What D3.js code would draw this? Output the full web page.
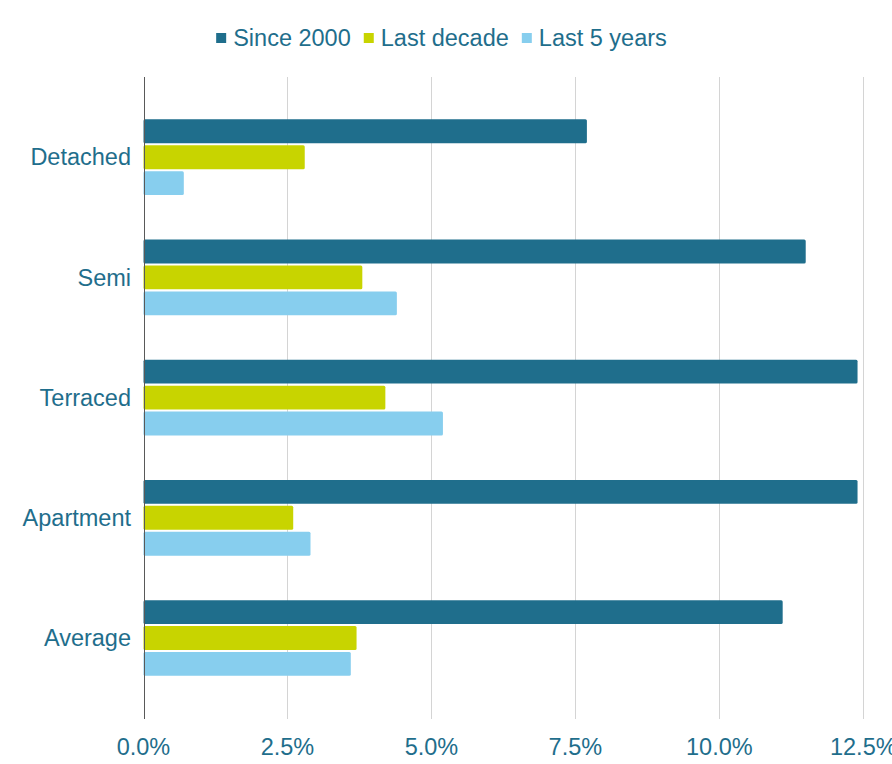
<!DOCTYPE html>
<html>
<head>
<meta charset="utf-8">
<script src="https://cdn.jsdelivr.net/npm/d3@7"></script>
<style>
  html, body { margin: 0; padding: 0; background: #fff; }
  svg { display: block; font-family: "Liberation Sans", Arial, sans-serif; }
</style>
</head>
<body>
<svg id="chart" width="892" height="764"></svg>
<script>
// Average annual house price growth by property type
const categories = ["Detached", "Semi", "Terraced", "Apartment", "Average"];
const seriesNames = ["Since 2000", "Last decade", "Last 5 years"];
const since2000 = [7.7, 11.5, 12.4, 12.4, 11.1];
const lastDecade = [2.8, 3.8, 4.2, 2.6, 3.7];
const last5Years = [0.7, 4.4, 5.2, 2.9, 3.6];
const tickValues = [0, 2.5, 5, 7.5, 10, 12.5];
const colors = ["#1f6e8c", "#c8d400", "#87ceee"];
const textColor = "#1f6e8c";

const seriesValues = [since2000, lastDecade, last5Years];
const rows = categories.map((c, i) => ({
  category: c,
  values: seriesNames.map((s, j) => ({ series: s, value: seriesValues[j][i], idx: j }))
}));

const svg = d3.select("#chart");

const x = d3.scaleLinear().domain([0, 12.5]).range([143.5, 863.3]);
const y = d3.scaleBand().domain(categories).range([97.1, 698.1])
  .paddingInner(0.37).paddingOuter(0.185);
const ySub = d3.scaleBand().domain(seriesNames).range([0, y.bandwidth()])
  .paddingInner(0.08).paddingOuter(0);

const gridTop = 77, gridBottom = 719;

// vertical gridlines
svg.append("g")
  .selectAll("line")
  .data(tickValues.filter(v => v > 0))
  .join("line")
  .attr("x1", d => Math.round(x(d)) + 0.5)
  .attr("x2", d => Math.round(x(d)) + 0.5)
  .attr("y1", gridTop).attr("y2", gridBottom)
  .attr("stroke", "#d4d4d4").attr("stroke-width", 1);

// bars
const groups = svg.append("g")
  .selectAll("g")
  .data(rows)
  .join("g")
  .attr("transform", d => `translate(0,${y(d.category)})`);

groups.selectAll("rect")
  .data(d => d.values)
  .join("rect")
  .attr("x", x(0))
  .attr("y", d => ySub(d.series))
  .attr("width", d => x(d.value) - x(0))
  .attr("height", ySub.bandwidth())
  .attr("rx", 1.5)
  .attr("fill", d => colors[d.idx]);

// zero axis line
svg.append("line")
  .attr("x1", Math.round(x(0)) + 0.5).attr("x2", Math.round(x(0)) + 0.5)
  .attr("y1", gridTop).attr("y2", gridBottom)
  .attr("stroke", "#595959").attr("stroke-width", 1);

// x tick labels
const fmt = d3.format(".1f");
svg.append("g")
  .selectAll("text")
  .data(tickValues)
  .join("text")
  .attr("x", d => x(d))
  .attr("y", 755)
  .attr("text-anchor", "middle")
  .attr("font-size", 23.5)
  .attr("fill", textColor)
  .text(d => fmt(d) + "%");

// category labels
svg.append("g")
  .selectAll("text")
  .data(categories)
  .join("text")
  .attr("x", 131)
  .attr("y", d => y(d) + y.bandwidth() / 2)
  .attr("dy", "0.35em")
  .attr("text-anchor", "end")
  .attr("font-size", 23.5)
  .attr("fill", textColor)
  .text(d => d);

// legend
const legend = svg.append("g");
const items = legend.selectAll("g")
  .data(seriesNames)
  .join("g");
items.append("rect")
  .attr("width", 10).attr("height", 10)
  .attr("y", 33)
  .attr("fill", (d, i) => colors[i]);
items.append("text")
  .attr("x", 17)
  .attr("y", 46)
  .attr("font-size", 23.5)
  .attr("fill", textColor)
  .text(d => d);

let offset = 0;
const positions = [];
items.each(function () {
  const w = d3.select(this).select("text").node().getComputedTextLength();
  positions.push(offset);
  offset += 17 + w + 13;
});
const total = offset - 13;
const startX = 441.5 - total / 2;
items.attr("transform", (d, i) => `translate(${startX + positions[i]},0)`);
</script>
</body>
</html>
